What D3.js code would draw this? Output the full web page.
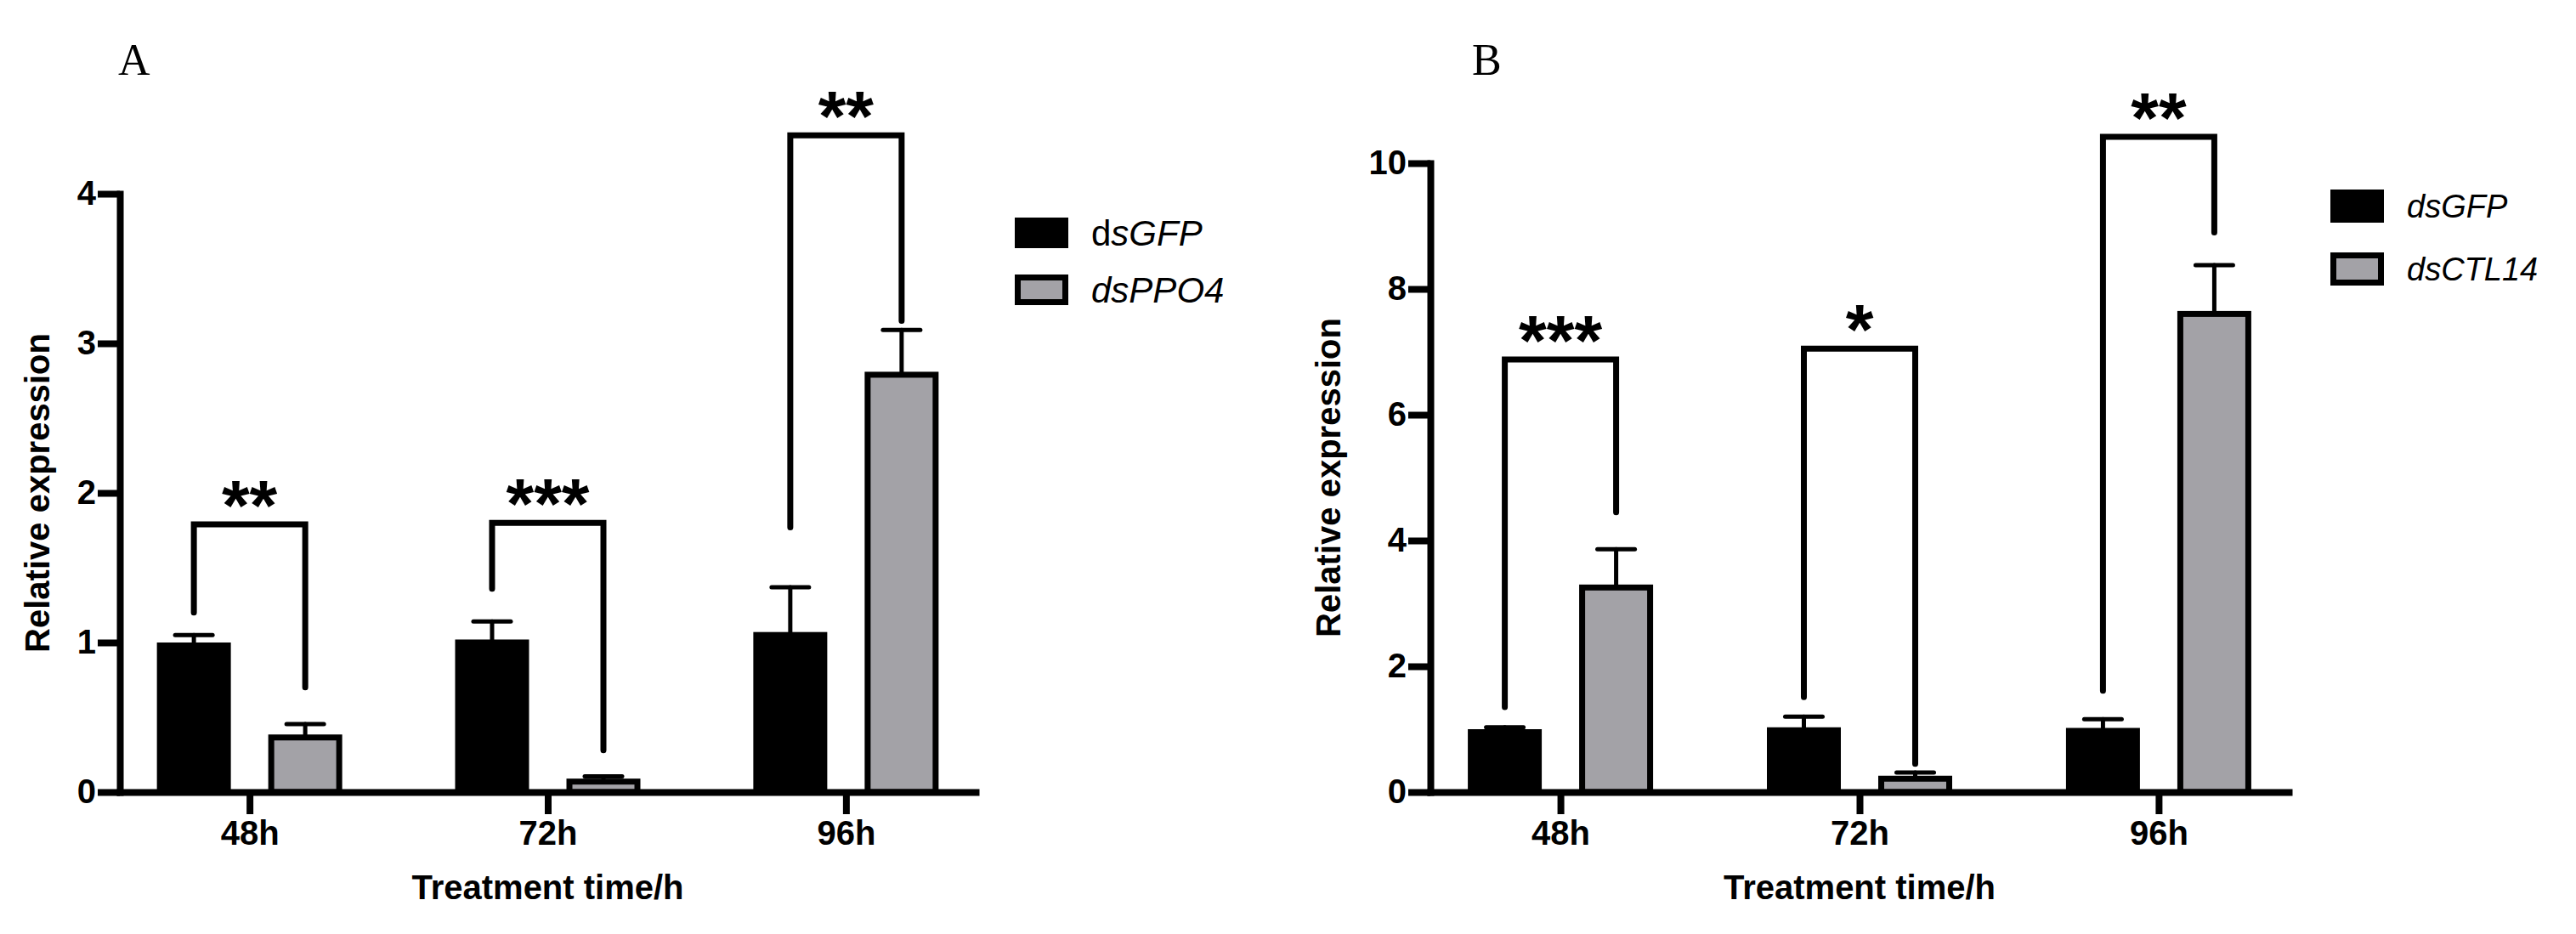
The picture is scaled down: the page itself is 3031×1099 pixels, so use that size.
<!DOCTYPE html>
<html>
<head>
<meta charset="utf-8">
<script src="https://cdn.jsdelivr.net/npm/d3@7"></script>
<style>
  html, body { margin: 0; padding: 0; background: #fff; }
  svg { display: block; }
  .axis path, .axis line { stroke: #000; stroke-width: 8; }
  .axis path { stroke-linecap: square; }
  .axis text { font-family: "Liberation Sans", Arial, sans-serif; font-weight: bold; font-size: 40px; fill: #000; }
  .title { font-family: "Liberation Sans", Arial, sans-serif; font-weight: bold; font-size: 40px; }
  .panel-label { font-family: "Liberation Serif", "Times New Roman", serif; font-size: 52px; }
  .legend-text { font-family: "Liberation Sans", Arial, sans-serif; }
  .stars { font-family: "Liberation Sans", Arial, sans-serif; font-weight: bold; font-size: 84px; }
</style>
</head>
<body>
<svg id="chart" width="3031" height="1099"></svg>
<script>
// ---- data ----
var groups = ['48h', '72h', '96h'];

// panel A
var seriesA = ['dsGFP', 'dsPPO4'];
var gfpA = [1.0, 1.02, 1.07];
var gfpErrA = [0.05, 0.12, 0.30];
var ppo4A = [0.385, 0.09, 2.81];
var ppo4ErrA = [0.07, 0.015, 0.28];
var sigTopA = [1.79, 1.80, 4.39];
var sigLeftA = [1.20, 1.36, 1.77];
var sigRightA = [0.70, 0.28, 3.15];
var sigLabelA = ['**', '***', '**'];
var ticksA = [0, 1, 2, 3, 4];

// panel B
var seriesB = ['dsGFP', 'dsCTL14'];
var gfpB = [1.0, 1.03, 1.02];
var gfpErrB = [0.03, 0.17, 0.14];
var ctlB = [3.30, 0.26, 7.65];
var ctlErrB = [0.56, 0.05, 0.73];
var sigTopB = [6.88, 7.05, 10.42];
var sigLeftB = [1.35, 1.51, 1.61];
var sigRightB = [4.45, 0.45, 8.9];
var sigLabelB = ['***', '*', '**'];
var ticksB = [0, 2, 4, 6, 8, 10];

var barColors = ['#000000', '#a3a2a7'];

var svg = d3.select('#chart');

function drawPanel(cfg) {
  var g = svg.append('g');

  var y = d3.scaleLinear()
    .domain([0, cfg.yMax])
    .range([cfg.top + cfg.height, cfg.top]);

  var x = d3.scalePoint()
    .domain(groups)
    .range([cfg.left, cfg.left + cfg.width])
    .padding(0.435);

  var xSub = d3.scaleBand()
    .domain(cfg.series)
    .range([-109, 109])
    .paddingInner(0.336);

  var bw = xSub.bandwidth();
  var strokeW = 7;

  // rows: one per group per series
  var rows = [];
  groups.forEach(function(grp, i) {
    cfg.series.forEach(function(s, j) {
      rows.push({ group: grp, series: s, si: j, value: cfg.values[j][i], err: cfg.errors[j][i] });
    });
  });

  // bars
  g.selectAll('rect.bar')
    .data(rows)
    .enter()
    .append('rect')
    .attr('class', 'bar')
    .attr('x', function(d) { return x(d.group) + xSub(d.series) + (d.si ? strokeW / 2 : 0); })
    .attr('y', function(d) { return y(d.value) + (d.si ? strokeW / 2 : 0); })
    .attr('width', function(d) { return bw - (d.si ? strokeW : 0); })
    .attr('height', function(d) { return y(0) - y(d.value) - (d.si ? strokeW / 2 : 0); })
    .attr('fill', function(d) { return barColors[d.si]; })
    .attr('stroke', function(d) { return d.si ? '#000' : 'none'; })
    .attr('stroke-width', strokeW);

  // error bars (upper only)
  var errs = g.selectAll('g.err')
    .data(rows)
    .enter()
    .append('g')
    .attr('class', 'err')
    .attr('stroke', '#000')
    .attr('stroke-width', 5)
    .attr('stroke-linecap', 'round');

  errs.append('line')
    .attr('x1', function(d) { return x(d.group) + xSub(d.series) + bw / 2; })
    .attr('x2', function(d) { return x(d.group) + xSub(d.series) + bw / 2; })
    .attr('y1', function(d) { return y(d.value); })
    .attr('y2', function(d) { return y(d.value + d.err); });

  errs.append('line')
    .attr('x1', function(d) { return x(d.group) + xSub(d.series) + bw / 2 - 22; })
    .attr('x2', function(d) { return x(d.group) + xSub(d.series) + bw / 2 + 22; })
    .attr('y1', function(d) { return y(d.value + d.err); })
    .attr('y2', function(d) { return y(d.value + d.err); });

  // axes
  g.append('g')
    .attr('class', 'axis')
    .attr('transform', 'translate(' + cfg.left + ',0)')
    .call(d3.axisLeft(y).tickValues(cfg.ticks).tickSize(26).tickSizeOuter(0).tickPadding(2).tickFormat(d3.format('d')));

  g.append('g')
    .attr('class', 'axis')
    .attr('transform', 'translate(0,' + y(0) + ')')
    .call(d3.axisBottom(x).tickSize(26).tickSizeOuter(0).tickPadding(8));

  // significance brackets
  var sig = groups.map(function(grp, i) {
    return { group: grp, top: cfg.sigTop[i], left: cfg.sigLeft[i], right: cfg.sigRight[i], label: cfg.sigLabel[i] };
  });

  var cx = function(grp, s) { return x(grp) + xSub(s) + bw / 2; };

  g.selectAll('path.bracket')
    .data(sig)
    .enter()
    .append('path')
    .attr('class', 'bracket')
    .attr('fill', 'none')
    .attr('stroke', '#000')
    .attr('stroke-width', 7)
    .attr('stroke-linecap', 'round')
    .attr('stroke-linejoin', 'miter')
    .attr('d', function(d) {
      var x0 = cx(d.group, cfg.series[0]);
      var x1 = cx(d.group, cfg.series[1]);
      return 'M' + x0 + ',' + y(d.left) + 'V' + y(d.top) + 'H' + x1 + 'V' + y(d.right);
    });

  g.selectAll('text.stars')
    .data(sig)
    .enter()
    .append('text')
    .attr('class', 'stars')
    .attr('text-anchor', 'middle')
    .attr('x', function(d) { return (cx(d.group, cfg.series[0]) + cx(d.group, cfg.series[1])) / 2; })
    .attr('y', function(d) { return y(d.top) + 7; })
    .text(function(d) { return d.label; });

  // axis titles
  g.append('text')
    .attr('class', 'title')
    .attr('text-anchor', 'middle')
    .attr('transform', 'translate(' + cfg.yTitleX + ',' + (cfg.top + cfg.height / 2) + ') rotate(-90)')
    .text('Relative expression');

  g.append('text')
    .attr('class', 'title')
    .attr('text-anchor', 'middle')
    .attr('x', x(groups[1]))
    .attr('y', 1058)
    .text('Treatment time/h');

  // panel letter
  g.append('text')
    .attr('class', 'panel-label')
    .attr('x', cfg.letterX)
    .attr('y', 88)
    .text(cfg.letter);

  // legend
  var leg = g.selectAll('g.legend')
    .data(cfg.legend)
    .enter()
    .append('g')
    .attr('class', 'legend')
    .attr('transform', function(d, i) { return 'translate(' + cfg.legendX + ',' + (cfg.legendY + i * cfg.legendStep) + ')'; });

  leg.append('rect')
    .attr('x', function(d, i) { return i ? strokeW / 2 : 0; })
    .attr('y', function(d, i) { return i ? strokeW / 2 : 0; })
    .attr('width', function(d, i) { return 63 - (i ? strokeW : 0); })
    .attr('height', function(d, i) { return cfg.legendBox - (i ? strokeW : 0); })
    .attr('fill', function(d, i) { return barColors[i]; })
    .attr('stroke', function(d, i) { return i ? '#000' : 'none'; })
    .attr('stroke-width', strokeW);

  var lt = leg.append('text')
    .attr('class', 'legend-text')
    .attr('x', 90)
    .attr('y', cfg.legendBox / 2 + cfg.legendFont * 0.36)
    .style('font-size', cfg.legendFont + 'px');

  lt.selectAll('tspan')
    .data(function(d) { return d; })
    .enter()
    .append('tspan')
    .style('font-style', function(d) { return d[1] ? 'italic' : 'normal'; })
    .text(function(d) { return d[0]; });
}

drawPanel({
  letter: 'A', letterX: 139,
  left: 141, top: 228, width: 1007, height: 704, yMax: 4, ticks: ticksA,
  series: seriesA, values: [gfpA, ppo4A], errors: [gfpErrA, ppo4ErrA],
  sigTop: sigTopA, sigLeft: sigLeftA, sigRight: sigRightA, sigLabel: sigLabelA,
  yTitleX: 58,
  legend: [[['d', false], ['sGFP', true]], [['dsPPO4', true]]],
  legendX: 1194, legendY: 256, legendStep: 67, legendBox: 36, legendFont: 42
});

drawPanel({
  letter: 'B', letterX: 1732,
  left: 1683, top: 192, width: 1010, height: 740, yMax: 10, ticks: ticksB,
  series: seriesB, values: [gfpB, ctlB], errors: [gfpErrB, ctlErrB],
  sigTop: sigTopB, sigLeft: sigLeftB, sigRight: sigRightB, sigLabel: sigLabelB,
  yTitleX: 1577,
  legend: [[['dsGFP', true]], [['dsCTL14', true]]],
  legendX: 2742, legendY: 223, legendStep: 74, legendBox: 39, legendFont: 38
});
</script>
</body>
</html>
